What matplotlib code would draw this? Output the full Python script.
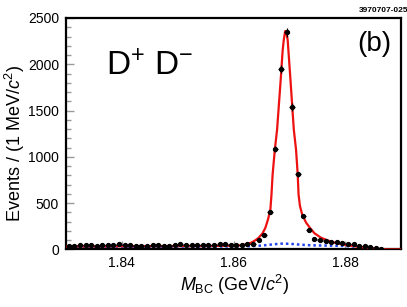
import numpy as np
import matplotlib
matplotlib.use("Agg")
import matplotlib.pyplot as plt

plt.rcParams['font.family'] = ['Liberation Sans', 'DejaVu Sans']
plt.rcParams['mathtext.fontset'] = 'custom'
plt.rcParams['mathtext.rm'] = 'Liberation Sans'
plt.rcParams['mathtext.it'] = 'Liberation Sans:italic'
plt.rcParams['mathtext.bf'] = 'Liberation Sans:bold'

# ---- data: bin centers (GeV/c^2) and event counts ----
bin_centers = [
    1.8305, 1.8315, 1.8325, 1.8335, 1.8345, 1.8355, 1.8365, 1.8375, 1.8385, 1.8395,
    1.8405, 1.8415, 1.8425, 1.8435, 1.8445, 1.8455, 1.8465, 1.8475, 1.8485, 1.8495,
    1.8505, 1.8515, 1.8525, 1.8535, 1.8545, 1.8555, 1.8565, 1.8575, 1.8585, 1.8595,
    1.8605, 1.8615, 1.8625, 1.8635, 1.8645, 1.8655, 1.8665, 1.8675, 1.8685, 1.8695,
    1.8705, 1.8715, 1.8725, 1.8735, 1.8745, 1.8755, 1.8765, 1.8775, 1.8785, 1.8795,
    1.8805, 1.8815, 1.8825, 1.8835, 1.8845, 1.8855, 1.8865,
]
counts = [
    40, 42, 45, 44, 46, 43, 47, 45, 50, 55,
    48, 52, 42, 40, 43, 44, 45, 38, 40, 52,
    55, 50, 53, 48, 47, 45, 52, 55, 58, 50,
    52, 50, 55, 62, 100, 155, 410, 1090, 1950, 2345,
    1540, 810, 366, 215, 115, 105, 90, 85, 82, 70,
    62, 55, 42, 36, 22, 20, 10,
]

# total fit curve
fit_x = [1.830, 1.835, 1.840, 1.845, 1.850, 1.855, 1.858, 1.860, 1.861, 1.862,
         1.8631, 1.8638, 1.8645, 1.8652, 1.8657, 1.8662, 1.8666, 1.8668, 1.8670,
         1.8674, 1.8678, 1.86845, 1.8688, 1.8690, 1.8692, 1.86927, 1.8695, 1.8697,
         1.8702, 1.8708, 1.8712, 1.8715, 1.87165, 1.8719, 1.8723, 1.8730, 1.8737,
         1.8745, 1.8757, 1.8770, 1.8782, 1.8800, 1.8820, 1.8838, 1.8855, 1.8868,
         1.8875, 1.890]
fit_y = [33, 34, 35, 36, 37, 38, 39, 41, 44, 52,
         72, 95, 126, 175, 233, 330, 431, 593, 808,
         1078, 1293, 1832, 2150, 2263, 2340, 2360, 2330, 2263,
         1832, 1293, 1078, 808, 593, 470, 377, 290, 233,
         175, 126, 95, 72, 50, 32, 22, 10, 3,
         0, 0]

# background curve
bkg_x = [1.830, 1.840, 1.850, 1.860, 1.863, 1.865, 1.867, 1.8685, 1.870, 1.872,
         1.874, 1.877, 1.880, 1.882, 1.884, 1.886, 1.8865]
bkg_y = [30, 31, 32, 33, 36, 42, 55, 63, 62, 52,
         45, 42, 38, 30, 20, 5, 0]

x_ticks = [1.84, 1.86, 1.88]
y_ticks = [0, 500, 1000, 1500, 2000, 2500]

fig = plt.figure(figsize=(4.07, 3.07), dpi=100)
ax = fig.add_axes([0.1622, 0.1873, 0.8231, 0.7541])

ax.plot(fit_x, fit_y, color='#ee1111', lw=1.6, zorder=3)
ax.plot(bkg_x, bkg_y, color='#2244ee', lw=1.8, ls=(0, (1, 1.2)), zorder=2)

cnt = np.array(counts, dtype=float)
ax.errorbar(bin_centers, cnt, yerr=np.sqrt(cnt), xerr=0.0005, fmt='o',
            color='black', ms=2.8, lw=0.9, capsize=0, zorder=4)

ax.set_xlim(1.83, 1.89)
ax.set_ylim(0, 2500)
ax.set_xticks(x_ticks)
ax.set_xticklabels([f"{v:.2f}" for v in x_ticks])
ax.set_yticks(y_ticks)
ax.set_yticks(np.arange(0, 2501, 100), minor=True)

ax.tick_params(axis='both', which='major', direction='in', length=6, width=1,
               color='#999999', labelsize=10, pad=5)
ax.tick_params(axis='y', which='minor', direction='in', length=3.5, width=1,
               color='#999999')
ax.tick_params(axis='x', which='minor', bottom=False)
for s in ax.spines.values():
    s.set_linewidth(1.6)
    s.set_color('black')

ax.set_ylabel(r'Events / (1 MeV/$\mathit{c}^{2}$)', fontsize=13)
ax.yaxis.set_label_coords(-0.152, 0.46)
ax.yaxis.label.set_va('center')
ax.set_xlabel(r'$M_{\mathrm{BC}}$ (GeV/$\mathit{c}^{2}$)', fontsize=13)
ax.xaxis.set_label_coords(0.504, -0.153)
ax.xaxis.label.set_va('center')

ax.text(0.119, 0.788, r'D$^{+}$ D$^{-}$', transform=ax.transAxes, fontsize=24,
        ha='left', va='center')
ax.text(0.919, 0.888, '(b)', transform=ax.transAxes, fontsize=20,
        ha='center', va='center')
fig.text(0.942, 0.967, '3970707-025', fontsize=6, fontweight='semibold',
         ha='center', va='center')

fig.savefig('out.png', dpi=100)
